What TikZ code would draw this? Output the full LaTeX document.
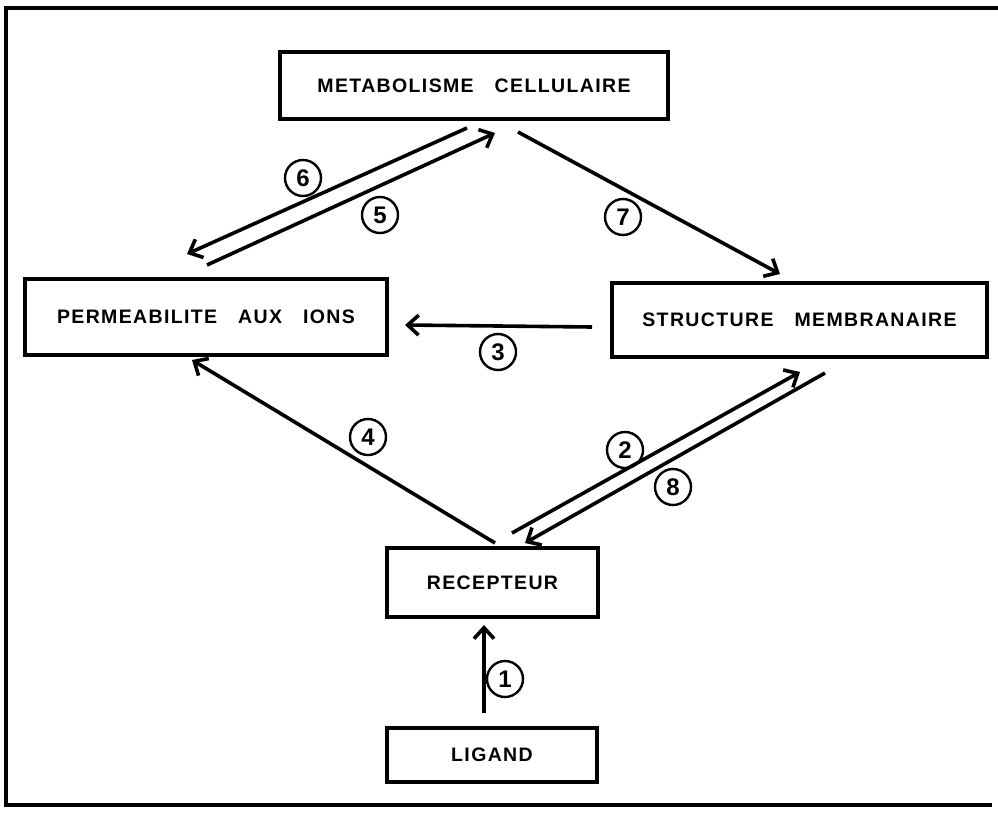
\documentclass[tikz,border=0pt]{standalone}
\usepackage{fontspec}
\newfontfamily\lab[LetterSpace=7, UprightFont={* Bold}, BoldFont={* Bold}]{Liberation Sans}
\newfontfamily\numf[UprightFont={* Bold}, BoldFont={* Bold}]{Liberation Sans}
\usetikzlibrary{arrows.meta}
\newcommand\ws{\hspace{21pt}}
\tikzset{
  box/.style={draw, line width=3.3pt, inner sep=0pt, font=\fontsize{19.5}{21}\lab},
  conn/.style={line width=3.6pt, -{Straight Barb[length=11pt,width=20pt]}},
  num/.style={draw, circle, line width=2.4pt, minimum size=36pt, inner sep=0pt, font=\fontsize{24}{26}\numf},
  frame/.style={line width=3.5pt}
}
\begin{document}
\begin{tikzpicture}[x=1pt,y=-1pt]
\useasboundingbox (0,0) rectangle (998,814);
\draw[frame] (998,8) -- (6,8) -- (6,805) -- (992,805);

\node[box, minimum width=388pt, minimum height=67pt] (met) at (474,85.5) {METABOLISME\ws CELLULAIRE};
\node[box, minimum width=362pt, minimum height=76pt] (perm) at (206,317) {PERMEABILITE\ws AUX\ws IONS};
\node[box, minimum width=375pt, minimum height=74pt] (struc) at (799.5,320) {STRUCTURE\ws MEMBRANAIRE};
\node[box, minimum width=211pt, minimum height=69pt] (rec) at (492.5,582.5) {RECEPTEUR};
\node[box, minimum width=210pt, minimum height=54pt] (lig) at (492,755) {LIGAND};

\coordinate (a1s) at (484,713); \coordinate (a1e) at (484,625);
\coordinate (a2s) at (512,533); \coordinate (a2e) at (800,372);
\coordinate (a8s) at (825,373); \coordinate (a8e) at (525,543);
\coordinate (a3s) at (592,327); \coordinate (a3e) at (405,325);
\coordinate (a4s) at (495,543); \coordinate (a4e) at (192,360);
\coordinate (a5s) at (207,265); \coordinate (a5e) at (495,133);
\coordinate (a6s) at (467,128); \coordinate (a6e) at (187,254);
\coordinate (a7s) at (518,132); \coordinate (a7e) at (780,274);

\draw[conn] (a1s) -- (a1e);
\draw[conn] (a2s) -- (a2e);
\draw[conn] (a8s) -- (a8e);
\draw[conn] (a3s) -- (a3e);
\draw[conn] (a4s) -- (a4e);
\draw[conn] (a5s) -- (a5e);
\draw[conn] (a6s) -- (a6e);
\draw[conn] (a7s) -- (a7e);

\node[num] (n1) at (505,679) {1};
\node[num] (n2) at (625,450) {2};
\node[num] (n3) at (498,352) {3};
\node[num] (n4) at (368,437) {4};
\node[num] (n5) at (380,215) {5};
\node[num] (n6) at (303,178) {6};
\node[num] (n7) at (623,217) {7};
\node[num] (n8) at (673,487) {8};
\end{tikzpicture}
\end{document}
